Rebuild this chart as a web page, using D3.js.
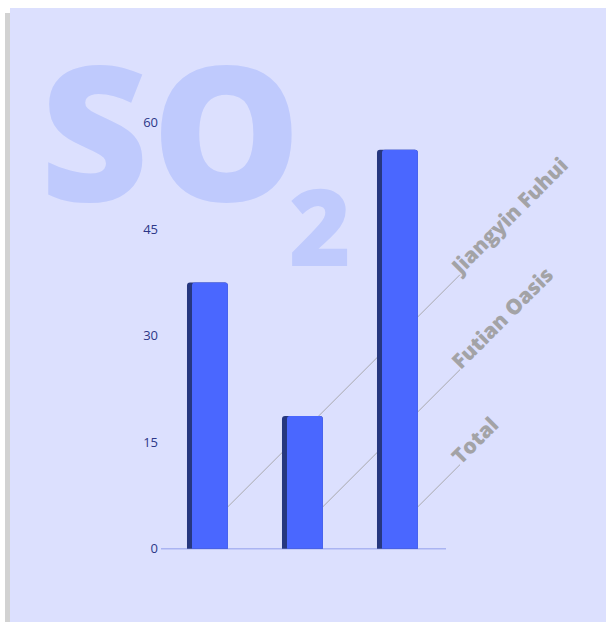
<!DOCTYPE html>
<html>
<head>
<meta charset="utf-8">
<script src="https://cdn.jsdelivr.net/npm/d3@7"></script>
<style>
  html, body { margin: 0; padding: 0; background: #ffffff; }
  svg { display: block; font-family: "Open Sans", sans-serif; }
</style>
</head>
<body>
<svg id="chart" width="606" height="622"></svg>
<script>
// SO2 emissions by plant, with the combined total
const categories = ["Jiangyin Fuhui", "Futian Oasis", "Total"];
const values = [37.5, 18.7, 56.2];
const yTicks = [0, 15, 30, 45, 60];

const W = 606, H = 622;
const svg = d3.select("#chart");

// card with a soft grey offset edge
svg.append("rect").attr("x", 5).attr("y", 13).attr("width", W - 5).attr("height", H - 13).attr("fill", "#d2d2d2");
svg.append("rect").attr("x", 10).attr("y", 8).attr("width", W - 10).attr("height", H - 8).attr("fill", "#dce0fe");

// big faint chemical formula behind the chart
const formula = svg.append("g").attr("fill", "#bfcafd").style("font-weight", 800);
formula.append("text")
  .attr("x", 40).attr("y", 201)
  .style("font-size", "188px")
  .style("letter-spacing", "3px")
  .text("SO");
formula.append("text")
  .attr("x", 289).attr("y", 266)
  .style("font-size", "106px")
  .text("2");

const x = d3.scaleBand().domain(categories).range([161, 446])
  .paddingInner(0.57).paddingOuter(0.285).align(0.48);
const y = d3.scaleLinear().domain([0, 60]).range([548.7, 122.7]);

// value axis: labels only
const yAxis = svg.append("g").attr("transform", "translate(158,0)")
  .call(d3.axisLeft(y).tickValues(yTicks).tickSize(0).tickPadding(0));
yAxis.select(".domain").remove();
yAxis.selectAll("text")
  .attr("fill", "#2d3888")
  .style("font-size", "13px")
  .style("font-family", "'Open Sans', sans-serif");

// baseline
svg.append("line")
  .attr("x1", x.range()[0]).attr("x2", x.range()[1])
  .attr("y1", y(0)).attr("y2", y(0))
  .attr("stroke", "#aab4f2").attr("stroke-width", 1.5);

// 45° leader lines from each bar to its name
const leaderStart = 5.9;   // value where the leader leaves the bar
const leaderEndX = 460;
const leaders = svg.append("g");
categories.forEach((c, i) => {
  const x0 = x(c) + x.bandwidth();
  const y0 = y(leaderStart);
  const x1 = leaderEndX;
  const y1 = y0 - (x1 - x0);
  leaders.append("line")
    .attr("x1", x0).attr("y1", y0).attr("x2", x1).attr("y2", y1)
    .attr("stroke", "#a9a9ad").attr("stroke-width", 1);
  leaders.append("text")
    .attr("transform", `translate(${x1},${y1}) rotate(-45)`)
    .attr("dx", 0).attr("dy", 1)
    .attr("fill", "#a3a3a6")
    .style("font-weight", 800)
    .style("font-size", "21px")
    .text(c);
});

// bars: dark left edge under a bright face, rounded top corners
function topRounded(x0, y0, w, h, r) {
  return `M${x0},${y0 + h}V${y0 + r}Q${x0},${y0} ${x0 + r},${y0}H${x0 + w - r}Q${x0 + w},${y0} ${x0 + w},${y0 + r}V${y0 + h}Z`;
}
const bars = svg.append("g");
categories.forEach((c, i) => {
  const bx = x(c), bw = x.bandwidth();
  const top = y(values[i]), h = y(0) - top;
  bars.append("path").attr("d", topRounded(bx, top, bw, h, 3)).attr("fill", "#26377f");
  bars.append("path").attr("d", topRounded(bx + 5, top, bw - 5, h, 3)).attr("fill", "#4a67ff");
});
</script>
</body>
</html>
